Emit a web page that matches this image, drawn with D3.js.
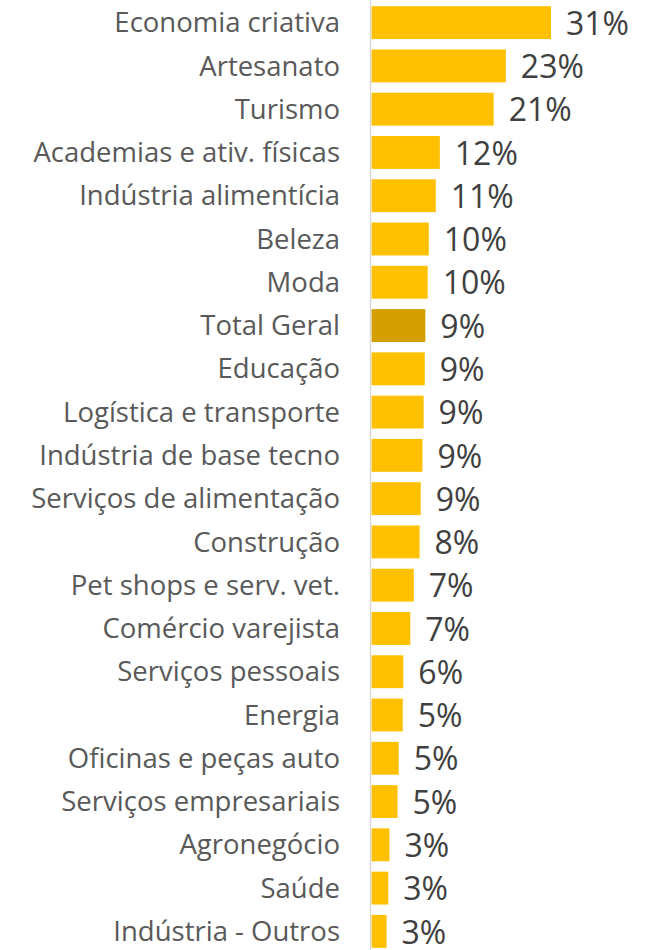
<!DOCTYPE html>
<html>
<head>
<meta charset="utf-8">
<style>
	body{ margin:0; background:#fff; }
	.cat{ fill:#595959; font-family:"Open Sans", sans-serif; font-size:27.5px; }
	.val{ fill:#404040; font-family:"Open Sans", sans-serif; font-size:32px; }
</style>
<script src="https://d3js.org/d3.v7.min.js"></script>
</head>
<body>
<div id="chart"></div>
<script>
var categories = ['Economia criativa','Artesanato','Turismo','Academias e ativ. físicas','Indústria alimentícia',
	'Beleza','Moda','Total Geral','Educação','Logística e transporte','Indústria de base tecno',
	'Serviços de alimentação','Construção','Pet shops e serv. vet.','Comércio varejista','Serviços pessoais',
	'Energia','Oficinas e peças auto','Serviços empresariais','Agronegócio','Saúde','Indústria - Outros'];
var values = [31.0, 23.2, 21.1, 11.8, 11.1, 9.9, 9.7, 9.3, 9.2, 9.0, 8.8, 8.5, 8.3, 7.3, 6.7, 5.5, 5.4, 4.7, 4.5, 3.1, 2.9, 2.6];
var valueLabels = ['31%','23%','21%','12%','11%','10%','10%','9%','9%','9%','9%','9%','8%','7%','7%','6%','5%','5%','5%','3%','3%','3%'];
var highlight = 'Total Geral';

var width = 659, height = 950;
var x0 = 371.5;

var data = categories.map(function(c, i){
	return {cat: c, v: values[i], label: valueLabels[i]};
});

var svg = d3.select('#chart').append('svg')
	.attr('width', width).attr('height', height);

var x = d3.scaleLinear().domain([0, 31]).range([x0, 551]);
var y = d3.scaleBand().domain(categories).range([1, 953]).paddingInner(0.24).paddingOuter(0.12);

svg.selectAll('.bar')
	.data(data)
	.enter().append('rect')
	.attr('class', 'bar')
	.attr('x', x(0))
	.attr('y', function(d){ return y(d.cat); })
	.attr('width', function(d){ return x(d.v) - x(0); })
	.attr('height', y.bandwidth())
	.attr('fill', function(d){ return d.cat == highlight ? '#D4A000' : '#FFC000'; });

// vertical axis line
svg.append('line')
	.attr('x1', x0 - 1).attr('x2', x0 - 1)
	.attr('y1', 0).attr('y2', height)
	.attr('stroke', '#d9d9d9').attr('stroke-width', 1.5);

svg.selectAll('.cat')
	.data(data)
	.enter().append('text')
	.attr('class', 'cat')
	.attr('x', 340)
	.attr('y', function(d){ return y(d.cat) + y.bandwidth() / 2; })
	.attr('dy', '0.35em')
	.attr('text-anchor', 'end')
	.text(function(d){ return d.cat; });

svg.selectAll('.val')
	.data(data)
	.enter().append('text')
	.attr('class', 'val')
	.attr('x', function(d){ return x(d.v) + 15; })
	.attr('y', function(d){ return y(d.cat) + y.bandwidth() / 2 + 1; })
	.attr('dy', '0.35em')
	.text(function(d){ return d.label; });
</script>
</body>
</html>
